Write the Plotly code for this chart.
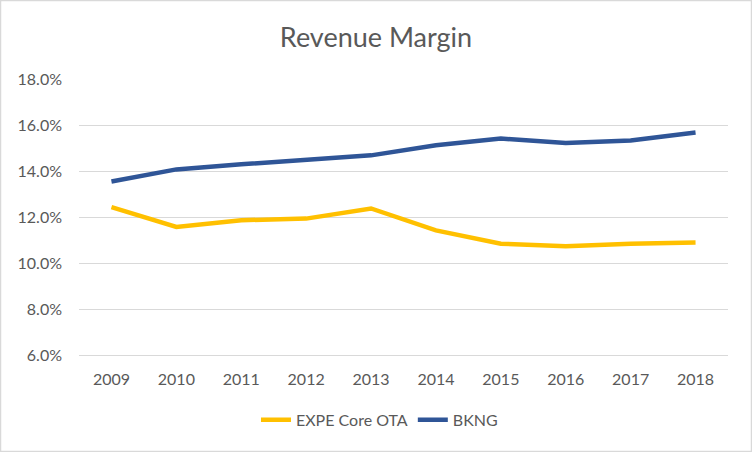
import plotly.graph_objects as go

years = ["2009", "2010", "2011", "2012", "2013", "2014", "2015", "2016", "2017", "2018"]
expe = [12.43, 11.57, 11.86, 11.93, 12.37, 11.42, 10.84, 10.73, 10.84, 10.89]
bkng = [13.54, 14.07, 14.29, 14.47, 14.68, 15.12, 15.41, 15.22, 15.33, 15.67]
expe = [v / 100 for v in expe]
bkng = [v / 100 for v in bkng]

font_fam = "Lato, Open Sans, sans-serif"
gray = "#595959"

fig = go.Figure()
fig.add_trace(go.Scatter(x=years, y=expe, mode="lines", name="EXPE Core OTA",
                         line=dict(color="#FFC000", width=4.5)))
fig.add_trace(go.Scatter(x=years, y=bkng, mode="lines", name="BKNG",
                         line=dict(color="#2F5597", width=4.5)))

fig.update_layout(
    width=752, height=452,
    margin=dict(l=79, r=24, t=79, b=97),
    paper_bgcolor="white", plot_bgcolor="white",
    title=dict(text="Revenue Margin", x=0.5, xanchor="center", y=0.916, yanchor="middle",
               font=dict(family=font_fam, size=27, color=gray)),
    font=dict(family=font_fam, color=gray, size=16),
    xaxis=dict(type="category", range=[-0.5, 9.5], showgrid=False, showline=True,
               linecolor="#D9D9D9", linewidth=1, ticks="", ticklabelstandoff=10,
               tickfont=dict(size=16, color=gray)),
    yaxis=dict(range=[0.06, 0.18], dtick=0.02, tickformat=".1%", showgrid=True,
               gridcolor="#D9D9D9", gridwidth=1, zeroline=False, showline=False,
               ticks="", ticklabelstandoff=16, tickfont=dict(size=16, color=gray)),
    legend=dict(orientation="h", x=0.463, xanchor="center", y=-0.235, yanchor="middle",
                font=dict(size=16, color=gray), tracegroupgap=0),
    shapes=[dict(type="rect", xref="paper", yref="paper", x0=-78.5/649, x1=1+23.5/649,
                 y0=-96.5/276, y1=1+78.5/276, line=dict(color="#D9D9D9", width=1.5))],
)

fig.write_html("out.html", config={"displayModeBar": False},
               post_script="document.body.style.margin='0';")
